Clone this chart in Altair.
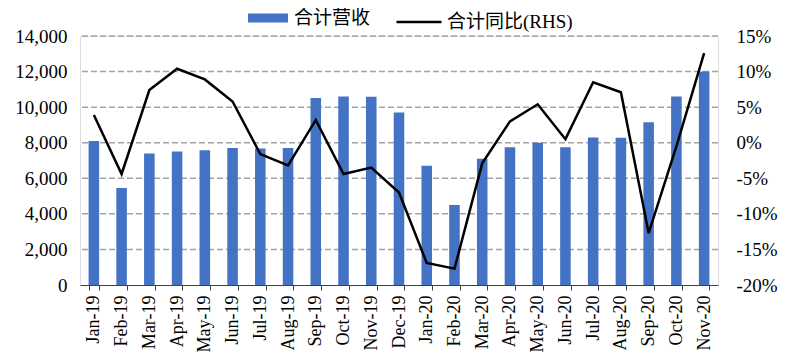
import altair as alt
import pandas as pd

months = ["Jan-19", "Feb-19", "Mar-19", "Apr-19", "May-19", "Jun-19", "Jul-19", "Aug-19",
          "Sep-19", "Oct-19", "Nov-19", "Dec-19", "Jan-20", "Feb-20", "Mar-20", "Apr-20",
          "May-20", "Jun-20", "Jul-20", "Aug-20", "Sep-20", "Oct-20", "Nov-20"]
revenue = [8100, 5450, 7400, 7500, 7570, 7700, 7680, 7700, 10520, 10600, 10580, 9700,
           6700, 4500, 7100, 7750, 8000, 7750, 8300, 8280, 9150, 10600, 12000]
yoy = [3.9, -4.4, 7.4, 10.4, 8.9, 5.8, -1.6, -3.2, 3.2, -4.4, -3.5, -7.0,
       -16.9, -17.7, -2.9, 3.0, 5.4, 0.5, 8.5, 7.1, -12.7, -0.5, 12.6]
left_ticks = [0, 2000, 4000, 6000, 8000, 10000, 12000, 14000]
right_ticks = [-20, -15, -10, -5, 0, 5, 10, 15]

bar_name = "合计营收"
line_name = "合计同比(RHS)"

df = pd.DataFrame({"month": months, "revenue": revenue, "yoy": yoy,
                   "bar_s": bar_name, "line_s": line_name})
grid_df = pd.DataFrame({"g": left_ticks[1:]})

SERIF = "Liberation Serif, Times New Roman, Noto Sans CJK SC"
CJK = "Liberation Serif, Noto Sans CJK SC"
LEFT_SCALE = alt.Scale(domain=[0, 14000], nice=False)
LEFT_AXIS = alt.Axis(values=left_ticks, format=",.0f", domain=False, ticks=False,
                     labelFont=SERIF, labelFontSize=19, labelColor="#000000",
                     labelPadding=13, grid=False, title=None)

x = alt.X("month:N", sort=months, title=None,
          scale=alt.Scale(paddingInner=0.62, paddingOuter=0.31),
          axis=alt.Axis(labelAngle=-90, labelAlign="right", labelBaseline="middle",
                        labelFont=SERIF, labelFontSize=18, labelColor="#000000",
                        tickBand="extent", tickSize=5, tickColor="#404040",
                        domainColor="#404040", domainWidth=1, labelPadding=5,
                        grid=False))

grid = alt.Chart(grid_df).mark_rule(color="#a3a3a3", strokeWidth=1.5, strokeDash=[6, 3]).encode(
    y=alt.Y("g:Q", scale=LEFT_SCALE, axis=LEFT_AXIS, title=None),
)

bars = alt.Chart(df).mark_bar(color="#4472C4").encode(
    x=x,
    y=alt.Y("revenue:Q", title=None, scale=LEFT_SCALE, axis=LEFT_AXIS),
    color=alt.Color("bar_s:N", scale=alt.Scale(domain=[bar_name], range=["#4472C4"]),
                    legend=alt.Legend(title=None, orient="none", legendX=168, legendY=-38,
                                      symbolType="M-1,-0.22L1,-0.22L1,0.22L-1,0.22Z",
                                      symbolSize=1600, symbolStrokeWidth=0,
                                      labelFont=CJK, labelFontSize=19, labelColor="#000000",
                                      labelOffset=6)),
)

line = alt.Chart(df).mark_line(color="#000000", strokeWidth=2.5).encode(
    x=x,
    y=alt.Y("yoy:Q", title=None,
            scale=alt.Scale(domain=[-20, 15], nice=False),
            axis=alt.Axis(orient="right", values=right_ticks, labelExpr="datum.value + '%'",
                          domain=False, ticks=False, grid=False,
                          labelFont=SERIF, labelFontSize=19, labelColor="#000000",
                          labelPadding=18)),
    stroke=alt.Stroke("line_s:N", scale=alt.Scale(domain=[line_name], range=["#000000"]),
                      legend=alt.Legend(title=None, orient="none", legendX=315, legendY=-38,
                                        symbolType="stroke", symbolSize=2025,
                                        symbolStrokeWidth=2.5,
                                        labelFont=CJK, labelFontSize=19, labelColor="#000000",
                                        labelOffset=4)),
)

left = alt.layer(grid, bars)

chart = alt.layer(left, line).resolve_scale(y="independent", color="independent",
                                             stroke="independent").properties(
    width=638, height=249,
    autosize=alt.AutoSizeParams(type="none"),
    padding={"left": 72, "top": 28, "right": 74, "bottom": 69},
).configure_view(stroke=None).configure(background="#ffffff")

chart.save("out.html", embed_options={"renderer": "svg", "actions": False})
